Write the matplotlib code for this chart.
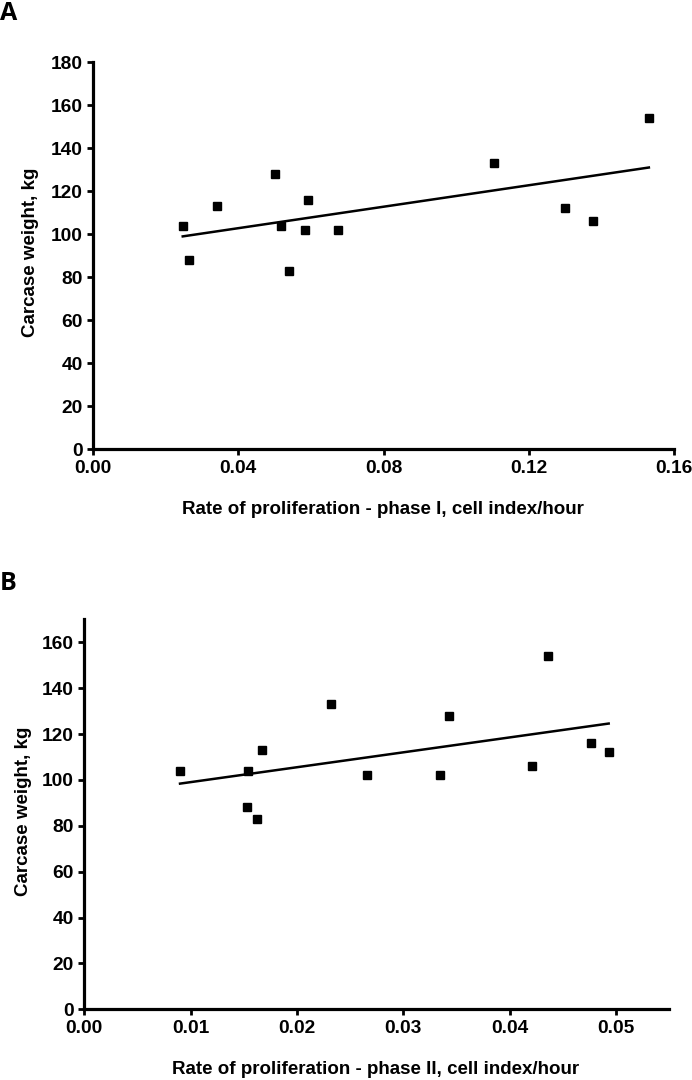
import matplotlib.pyplot as plt
import numpy as np

# carcase weight (kg), same animals in both panels
weight_a = [104, 88, 113, 128, 104, 116, 102, 102, 83, 133, 112, 106, 154]
rate_phase1 = [0.0247, 0.0265, 0.0342, 0.0502, 0.0517, 0.0591, 0.0584, 0.0674,
               0.0539, 0.1103, 0.1299, 0.1376, 0.1530]

weight_b = [104, 104, 113, 133, 88, 83, 102, 102, 128, 154, 106, 116, 112]
rate_phase2 = [0.0090, 0.0154, 0.0167, 0.0232, 0.0153, 0.0162, 0.0266, 0.0334,
               0.0343, 0.0436, 0.0421, 0.0476, 0.0493]

xticks_a = [0.00, 0.04, 0.08, 0.12, 0.16]
yticks_a = [0, 20, 40, 60, 80, 100, 120, 140, 160, 180]
xticks_b = [0.00, 0.01, 0.02, 0.03, 0.04, 0.05]
yticks_b = [0, 20, 40, 60, 80, 100, 120, 140, 160]

plt.rcParams["font.family"] = ["Liberation Sans", "DejaVu Sans"]
plt.rcParams["font.weight"] = "bold"

fig = plt.figure(figsize=(6.92, 10.8), dpi=100)
W, H = 692, 1080


def panel(rect, x, y, xlim, ylim, xticks, yticks):
    l, t, r, b = rect
    ax = fig.add_axes([l / W, 1 - b / H, (r - l) / W, (b - t) / H])
    ax.plot(x, y, "s", color="black", ms=6)
    # least squares line over data range
    k, c = np.polyfit(x, y, 1)
    xs = np.array([min(x), max(x)])
    ax.plot(xs, k * xs + c, color="black", lw=1.8)
    ax.set_xlim(*xlim)
    ax.set_ylim(*ylim)
    ax.set_xticks(xticks)
    ax.set_xticklabels([f"{v:.2f}" for v in xticks])
    ax.set_yticks(yticks)
    for s in ["top", "right"]:
        ax.spines[s].set_visible(False)
    for s in ["left", "bottom"]:
        ax.spines[s].set_linewidth(2.3)
    ax.tick_params(width=2, length=4.5, labelsize=13.8, pad=3)
    for lab in ax.get_xticklabels() + ax.get_yticklabels():
        lab.set_fontweight("bold")
    return ax


panel((93, 62, 674.3, 449.3), rate_phase1, weight_a, (0, 0.16), (0, 180),
      xticks_a, yticks_a)
panel((84.3, 619.3, 669.3, 1009.3), rate_phase2, weight_b, (0, 0.055), (0, 170),
      xticks_b, yticks_b)

lab = dict(fontsize=13.5, fontweight="bold", ha="center", va="center")
fig.text(383 / W, 1 - 510 / H, "Rate of proliferation - phase I, cell index/hour", **lab)
fig.text(31 / W, 1 - 252.5 / H, "Carcase weight, kg", rotation=90, **lab)
fig.text(376 / W, 1 - 1069 / H, "Rate of proliferation - phase II, cell index/hour", **lab)
fig.text(24 / W, 1 - 811 / H, "Carcase weight, kg", rotation=90, **lab)

fig.text(0, 1 - 13 / H, "A", fontsize=18, fontweight="bold", family="Open Sans",
         ha="left", va="center")
fig.text(0, 1 - 583 / H, "B", fontsize=18, fontweight="bold", family="Open Sans",
         ha="left", va="center")

fig.savefig("out.png", dpi=100)
